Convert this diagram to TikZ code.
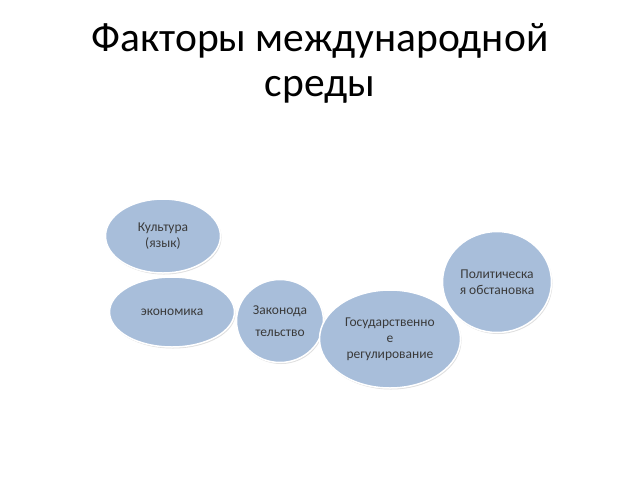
\documentclass[tikz,border=0pt]{standalone}
\usepackage{fontspec}
\setmainfont{Carlito}
\usetikzlibrary{shapes.geometric,shadows}
\definecolor{blobfill}{HTML}{A8BEDA}
\definecolor{txt}{HTML}{3A3A3A}
\begin{document}
\begin{tikzpicture}[x=1pt,y=-1pt,
  blob/.style={ellipse,fill=blobfill,draw=white,line width=1.5pt,inner sep=0pt,
    text=txt,font=\fontsize{13.5}{16}\selectfont,align=center,
    drop shadow={shadow xshift=1pt,shadow yshift=-1.5pt,opacity=0.25,fill=gray}},
  title/.style={font=\fontsize{41.5}{45}\selectfont,align=center,text=black}]
\useasboundingbox (0,0) rectangle (640,480);
\node[title] (t) at (320,63) {Факторы международной\\среды};
\node[blob,minimum width=115,minimum height=74] (k) at (163,236) {Культура\\(язык)};
\node[blob,minimum width=125,minimum height=70] (e) at (172,312) {экономика};
\node[blob,minimum width=87,minimum height=83,font=\fontsize{13.5}{22}\selectfont] (z) at (280,321) {Законода\\тельство};
\node[blob,minimum width=141,minimum height=98] (g) at (390,339) {Государственно\\е\\регулирование};
\node[blob,minimum width=109,minimum height=101] (p) at (497,282) {Политическа\\я обстановка};
\end{tikzpicture}
\end{document}
